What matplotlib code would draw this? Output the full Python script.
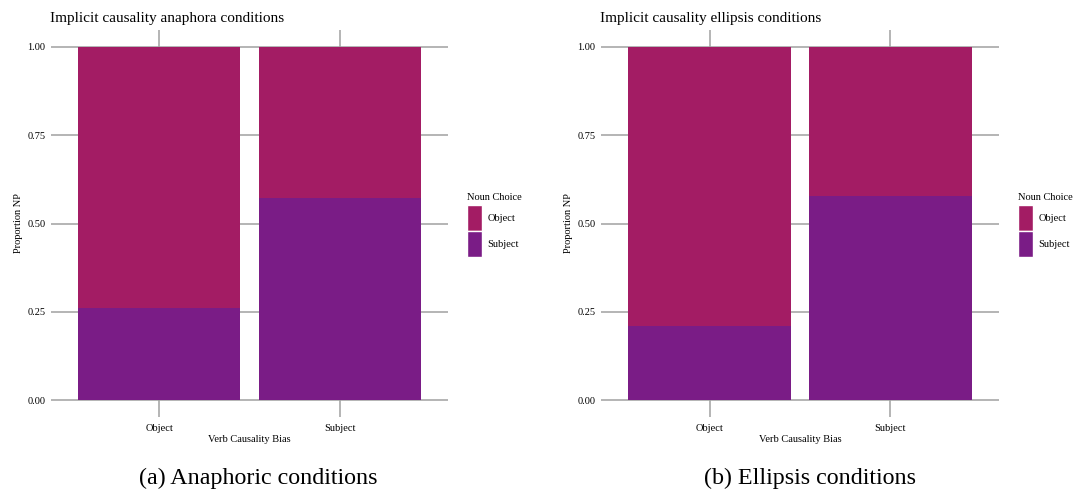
import matplotlib.pyplot as plt
from matplotlib.patches import Patch

plt.rcParams['font.family'] = ['Liberation Serif', 'DejaVu Serif']

# datos
categorias = ['Object', 'Subject']
sujeto_anafora = [0.26, 0.573]
sujeto_elipsis = [0.21, 0.578]
titulos = ['Implicit causality anaphora conditions', 'Implicit causality ellipsis conditions']
subtitulos = ['(a) Anaphoric conditions', '(b) Ellipsis conditions']
yticks = [0.0, 0.25, 0.5, 0.75, 1.0]

col_obj = '#A31C64'
col_suj = '#7A1C86'
gris = '#A0A0A0'

W, H = 1078, 493
fig = plt.figure(figsize=(W / 100, H / 100), dpi=100)

# (izq, der, centro del pie, x leyenda) en pixeles
paneles = [(51, 448, 258, 460), (601, 999, 810, 1011)]
datos = [sujeto_anafora, sujeto_elipsis]

for i, (x0, x1, xc, lx) in enumerate(paneles):
    ax = fig.add_axes([x0 / W, (H - 417) / H, (x1 - x0) / W, (417 - 30) / H])
    pos = list(range(len(categorias)))
    suj = datos[i]
    obj = [1 - v for v in suj]
    ax.set_axisbelow(True)
    ax.bar(pos, suj, width=0.9, color=col_suj, linewidth=0, zorder=2)
    ax.bar(pos, obj, bottom=suj, width=0.9, color=col_obj, linewidth=0, zorder=2)
    ax.set_xlim(-0.6, 1.6)
    ax.set_ylim(-0.048, 1.048)
    for y in yticks:
        ax.axhline(y, color=gris, linewidth=1.1, zorder=1)
    for p in pos:
        ax.axvline(p, color=gris, linewidth=1.1, zorder=1)
    ax.set_xticks(pos)
    ax.set_xticklabels(categorias, fontsize=7.5)
    ax.set_yticks(yticks)
    ax.set_yticklabels(['%.2f' % y for y in yticks], fontsize=7.5)
    ax.tick_params(length=0, pad=4)
    ax.tick_params(axis='x', pad=5)
    for s in ax.spines.values():
        s.set_visible(False)
    ax.set_xlabel('Verb Causality Bias', fontsize=7.5, labelpad=1.5)
    ax.set_ylabel('Proportion NP', fontsize=7.5, labelpad=3)
    ax.set_title(titulos[i], loc='left', fontsize=11, pad=5.5, x=-0.002)
    fig.text(xc / W, 1 - 478 / H, subtitulos[i], ha='center', va='center', fontsize=17.3)

    handles = [Patch(facecolor=col_obj, edgecolor='white'), Patch(facecolor=col_suj, edgecolor='white')]
    leg = fig.legend(handles, categorias, title='Noun Choice', loc='upper left',
                     bbox_to_anchor=(lx / W, 1 - 186 / H), frameon=False,
                     fontsize=7.5, title_fontsize=7.5, handlelength=1.45, handleheight=3.4,
                     labelspacing=0.05, handletextpad=0.5, borderpad=0.2)
    leg._legend_box.align = 'left'
    leg._legend_box.sep = 2

fig.savefig('out.png', dpi=100)
